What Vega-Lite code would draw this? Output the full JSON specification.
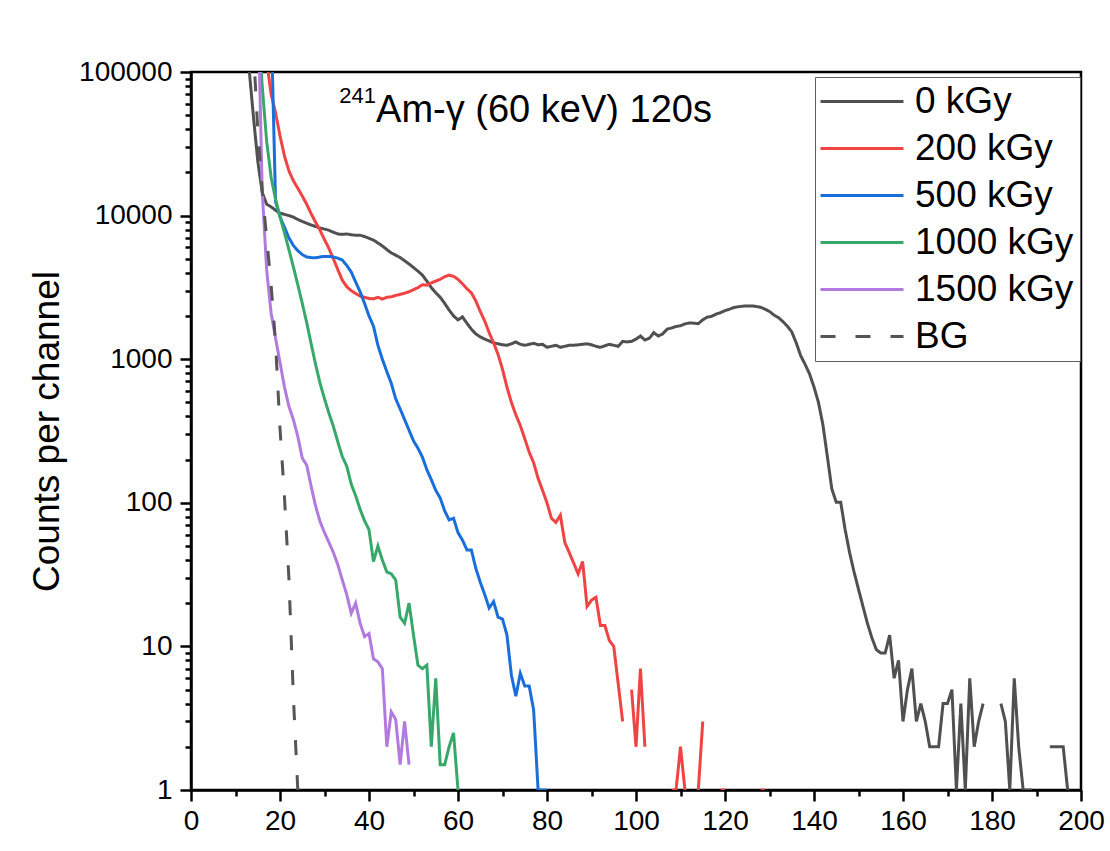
{
  "$schema": "https://vega.github.io/schema/vega-lite/v6.json",
  "width": 890,
  "height": 718,
  "autosize": {"type": "none"},
  "padding": {"left": 191, "top": 72, "right": 29, "bottom": 61},
  "background": "white",
  "config": {
    "font": "Liberation Sans",
    "view": {"stroke": "black", "strokeWidth": 2.5},
    "axis": {"domainColor": "black", "domainWidth": 2.5, "tickColor": "black", "tickWidth": 2.5, "labelColor": "black", "titleColor": "black", "grid": false, "labelFont": "Liberation Sans", "titleFont": "Liberation Sans", "titleFontWeight": "normal", "labelFontSize": 28, "titleFontSize": 37},
    "legend": {"orient": "none", "legendX": 624, "legendY": 5, "padding": 6, "strokeColor": "#606060", "fillColor": "white", "labelFontSize": 37, "labelFont": "Liberation Sans", "labelColor": "black", "symbolType": "M-1.9,0H6.4", "symbolSize": 400, "symbolStrokeWidth": 3, "labelOffset": 57, "rowPadding": 9, "labelLimit": 400, "cornerRadius": 0}
  },
  "datasets": {
    "spectra": [
      {"ch":12,"0 kGy":300000},
      {"ch":13,"0 kGy":110000,"BG":500000},
      {"ch":14,"0 kGy":50000,"BG":150000},
      {"ch":15,"0 kGy":24000,"1000 kGy":250000,"1500 kGy":350000,"BG":40000},
      {"ch":16,"0 kGy":14500,"1000 kGy":80000,"1500 kGy":15000,"BG":15000},
      {"ch":17,"0 kGy":12000,"200 kGy":120000,"1000 kGy":33000,"1500 kGy":4200,"BG":7000},
      {"ch":18,"0 kGy":11500,"200 kGy":70000,"500 kGy":240000,"1000 kGy":18500,"1500 kGy":2100,"BG":3300},
      {"ch":19,"0 kGy":10900,"200 kGy":52000,"500 kGy":12500,"1000 kGy":13000,"1500 kGy":1400,"BG":1300},
      {"ch":20,"0 kGy":10400,"200 kGy":36000,"500 kGy":9800,"1000 kGy":9800,"1500 kGy":950,"BG":330},
      {"ch":21,"0 kGy":10200,"200 kGy":26000,"500 kGy":8300,"1000 kGy":7600,"1500 kGy":640,"BG":110},
      {"ch":22,"0 kGy":10000,"200 kGy":20500,"500 kGy":7000,"1000 kGy":5800,"1500 kGy":470,"BG":30},
      {"ch":23,"0 kGy":9750,"200 kGy":17500,"500 kGy":6200,"1000 kGy":4400,"1500 kGy":380,"BG":4.5},
      {"ch":24,"0 kGy":9400,"200 kGy":15500,"500 kGy":5700,"1000 kGy":3300,"1500 kGy":290,"BG":1},
      {"ch":25,"0 kGy":9100,"200 kGy":13700,"500 kGy":5350,"1000 kGy":2450,"1500 kGy":205},
      {"ch":26,"0 kGy":8850,"200 kGy":12000,"500 kGy":5150,"1000 kGy":1800,"1500 kGy":183},
      {"ch":27,"0 kGy":8600,"200 kGy":10300,"500 kGy":5100,"1000 kGy":1280,"1500 kGy":130},
      {"ch":28,"0 kGy":8400,"200 kGy":9000,"500 kGy":5080,"1000 kGy":920,"1500 kGy":95},
      {"ch":29,"0 kGy":8200,"200 kGy":7900,"500 kGy":5150,"1000 kGy":680,"1500 kGy":74},
      {"ch":30,"0 kGy":8050,"200 kGy":6800,"500 kGy":5200,"1000 kGy":530,"1500 kGy":62},
      {"ch":31,"0 kGy":7900,"200 kGy":5900,"500 kGy":5200,"1000 kGy":420,"1500 kGy":53},
      {"ch":32,"0 kGy":7650,"200 kGy":5000,"500 kGy":5150,"1000 kGy":340,"1500 kGy":45},
      {"ch":33,"0 kGy":7450,"200 kGy":4200,"500 kGy":5050,"1000 kGy":265,"1500 kGy":37},
      {"ch":34,"0 kGy":7400,"200 kGy":3550,"500 kGy":4900,"1000 kGy":210,"1500 kGy":29},
      {"ch":35,"0 kGy":7450,"200 kGy":3200,"500 kGy":4500,"1000 kGy":180,"1500 kGy":23},
      {"ch":36,"0 kGy":7350,"200 kGy":3000,"500 kGy":4050,"1000 kGy":135,"1500 kGy":17},
      {"ch":37,"0 kGy":7300,"200 kGy":2870,"500 kGy":3450,"1000 kGy":112,"1500 kGy":20},
      {"ch":38,"0 kGy":7300,"200 kGy":2750,"500 kGy":2950,"1000 kGy":90,"1500 kGy":14.5},
      {"ch":39,"0 kGy":7150,"200 kGy":2700,"500 kGy":2450,"1000 kGy":75,"1500 kGy":11.7},
      {"ch":40,"0 kGy":6950,"200 kGy":2650,"500 kGy":2000,"1000 kGy":65,"1500 kGy":12.3},
      {"ch":41,"0 kGy":6750,"200 kGy":2630,"500 kGy":1700,"1000 kGy":39,"1500 kGy":8.2},
      {"ch":42,"0 kGy":6450,"200 kGy":2700,"500 kGy":1250,"1000 kGy":50,"1500 kGy":7.8},
      {"ch":43,"0 kGy":6150,"200 kGy":2620,"500 kGy":1000,"1000 kGy":40,"1500 kGy":7},
      {"ch":44,"0 kGy":5800,"200 kGy":2700,"500 kGy":820,"1000 kGy":33,"1500 kGy":2},
      {"ch":45,"0 kGy":5500,"200 kGy":2720,"500 kGy":680,"1000 kGy":32,"1500 kGy":3.5},
      {"ch":46,"0 kGy":5300,"200 kGy":2780,"500 kGy":530,"1000 kGy":29,"1500 kGy":3.1},
      {"ch":47,"0 kGy":5100,"200 kGy":2830,"500 kGy":450,"1000 kGy":16,"1500 kGy":1.5},
      {"ch":48,"0 kGy":4850,"200 kGy":2880,"500 kGy":380,"1000 kGy":14.5,"1500 kGy":3},
      {"ch":49,"0 kGy":4600,"200 kGy":2950,"500 kGy":320,"1000 kGy":20,"1500 kGy":1.5},
      {"ch":50,"0 kGy":4350,"200 kGy":3050,"500 kGy":270,"1000 kGy":12},
      {"ch":51,"0 kGy":4100,"200 kGy":3150,"500 kGy":240,"1000 kGy":7.4},
      {"ch":52,"0 kGy":3850,"200 kGy":3300,"500 kGy":208,"1000 kGy":7},
      {"ch":53,"0 kGy":3500,"200 kGy":3280,"500 kGy":170,"1000 kGy":7.4},
      {"ch":54,"0 kGy":3150,"200 kGy":3400,"500 kGy":145,"1000 kGy":2},
      {"ch":55,"0 kGy":2900,"200 kGy":3500,"500 kGy":122,"1000 kGy":6},
      {"ch":56,"0 kGy":2700,"200 kGy":3600,"500 kGy":108,"1000 kGy":1.5},
      {"ch":57,"0 kGy":2450,"200 kGy":3750,"500 kGy":88,"1000 kGy":1.5},
      {"ch":58,"0 kGy":2200,"200 kGy":3850,"500 kGy":76,"1000 kGy":2},
      {"ch":59,"0 kGy":2000,"200 kGy":3780,"500 kGy":78,"1000 kGy":2.5},
      {"ch":60,"0 kGy":1880,"200 kGy":3600,"500 kGy":62,"1000 kGy":1},
      {"ch":61,"0 kGy":1970,"200 kGy":3350,"500 kGy":55},
      {"ch":62,"0 kGy":1780,"200 kGy":3100,"500 kGy":47},
      {"ch":63,"0 kGy":1620,"200 kGy":2900,"500 kGy":47},
      {"ch":64,"0 kGy":1500,"200 kGy":2550,"500 kGy":35},
      {"ch":65,"0 kGy":1430,"200 kGy":2150,"500 kGy":28},
      {"ch":66,"0 kGy":1380,"200 kGy":1850,"500 kGy":23},
      {"ch":67,"0 kGy":1340,"200 kGy":1530,"500 kGy":18.5},
      {"ch":68,"0 kGy":1300,"200 kGy":1300,"500 kGy":20.5},
      {"ch":69,"0 kGy":1280,"200 kGy":1080,"500 kGy":16},
      {"ch":70,"0 kGy":1260,"200 kGy":850,"500 kGy":15.5},
      {"ch":71,"0 kGy":1250,"200 kGy":640,"500 kGy":12},
      {"ch":72,"0 kGy":1280,"200 kGy":500,"500 kGy":6.3},
      {"ch":73,"0 kGy":1320,"200 kGy":410,"500 kGy":4.5},
      {"ch":74,"0 kGy":1270,"200 kGy":345,"500 kGy":6.5},
      {"ch":75,"0 kGy":1250,"200 kGy":280,"500 kGy":5.3},
      {"ch":76,"0 kGy":1270,"200 kGy":225,"500 kGy":5.3},
      {"ch":77,"0 kGy":1290,"200 kGy":190,"500 kGy":3.6},
      {"ch":78,"0 kGy":1260,"200 kGy":148,"500 kGy":1},
      {"ch":79,"0 kGy":1270,"200 kGy":122,"500 kGy":1},
      {"ch":80,"0 kGy":1210,"200 kGy":100,"500 kGy":1},
      {"ch":81,"0 kGy":1230,"200 kGy":78},
      {"ch":82,"0 kGy":1250,"200 kGy":73},
      {"ch":83,"0 kGy":1210,"200 kGy":82},
      {"ch":84,"0 kGy":1230,"200 kGy":53},
      {"ch":85,"0 kGy":1250,"200 kGy":45},
      {"ch":86,"0 kGy":1250,"200 kGy":38},
      {"ch":87,"0 kGy":1260,"200 kGy":32},
      {"ch":88,"0 kGy":1270,"200 kGy":39},
      {"ch":89,"0 kGy":1280,"200 kGy":19},
      {"ch":90,"0 kGy":1260,"200 kGy":21},
      {"ch":91,"0 kGy":1230,"200 kGy":22},
      {"ch":92,"0 kGy":1210,"200 kGy":14},
      {"ch":93,"0 kGy":1240,"200 kGy":14},
      {"ch":94,"0 kGy":1270,"200 kGy":11},
      {"ch":95,"0 kGy":1250,"200 kGy":10},
      {"ch":96,"0 kGy":1230,"200 kGy":5.5},
      {"ch":97,"0 kGy":1330,"200 kGy":3},
      {"ch":98,"0 kGy":1320},
      {"ch":99,"0 kGy":1330,"200 kGy":5},
      {"ch":100,"0 kGy":1380,"200 kGy":2},
      {"ch":101,"0 kGy":1450,"200 kGy":7},
      {"ch":102,"0 kGy":1360,"200 kGy":2},
      {"ch":103,"0 kGy":1400},
      {"ch":104,"0 kGy":1530},
      {"ch":105,"0 kGy":1450},
      {"ch":106,"0 kGy":1500},
      {"ch":107,"0 kGy":1620},
      {"ch":108,"0 kGy":1650,"200 kGy":1},
      {"ch":109,"0 kGy":1690,"200 kGy":1},
      {"ch":110,"0 kGy":1710,"200 kGy":2},
      {"ch":111,"0 kGy":1760,"200 kGy":1},
      {"ch":112,"0 kGy":1790},
      {"ch":113,"0 kGy":1780},
      {"ch":114,"0 kGy":1770,"200 kGy":1},
      {"ch":115,"0 kGy":1880,"200 kGy":3},
      {"ch":116,"0 kGy":1960},
      {"ch":117,"0 kGy":1990},
      {"ch":118,"0 kGy":2060},
      {"ch":119,"0 kGy":2110,"200 kGy":1},
      {"ch":120,"0 kGy":2180,"200 kGy":1},
      {"ch":121,"0 kGy":2230},
      {"ch":122,"0 kGy":2290},
      {"ch":123,"0 kGy":2320},
      {"ch":124,"0 kGy":2340},
      {"ch":125,"0 kGy":2350},
      {"ch":126,"0 kGy":2350},
      {"ch":127,"0 kGy":2330},
      {"ch":128,"0 kGy":2300,"200 kGy":1},
      {"ch":129,"0 kGy":2230,"200 kGy":1},
      {"ch":130,"0 kGy":2150},
      {"ch":131,"0 kGy":2030},
      {"ch":132,"0 kGy":1950},
      {"ch":133,"0 kGy":1830},
      {"ch":134,"0 kGy":1700},
      {"ch":135,"0 kGy":1550},
      {"ch":136,"0 kGy":1300},
      {"ch":137,"0 kGy":1060},
      {"ch":138,"0 kGy":920},
      {"ch":139,"0 kGy":790},
      {"ch":140,"0 kGy":640},
      {"ch":141,"0 kGy":500},
      {"ch":142,"0 kGy":350},
      {"ch":143,"0 kGy":210},
      {"ch":144,"0 kGy":125},
      {"ch":145,"0 kGy":101},
      {"ch":146,"0 kGy":101},
      {"ch":147,"0 kGy":65},
      {"ch":148,"0 kGy":45},
      {"ch":149,"0 kGy":33},
      {"ch":150,"0 kGy":25},
      {"ch":151,"0 kGy":19},
      {"ch":152,"0 kGy":14.5},
      {"ch":153,"0 kGy":11.5},
      {"ch":154,"0 kGy":9.5},
      {"ch":155,"0 kGy":9},
      {"ch":156,"0 kGy":9},
      {"ch":157,"0 kGy":12},
      {"ch":158,"0 kGy":6},
      {"ch":159,"0 kGy":8},
      {"ch":160,"0 kGy":3},
      {"ch":161,"0 kGy":5},
      {"ch":162,"0 kGy":7},
      {"ch":163,"0 kGy":3},
      {"ch":164,"0 kGy":4},
      {"ch":165,"0 kGy":3},
      {"ch":166,"0 kGy":2},
      {"ch":167,"0 kGy":2},
      {"ch":168,"0 kGy":2},
      {"ch":169,"0 kGy":4},
      {"ch":170,"0 kGy":4},
      {"ch":171,"0 kGy":5},
      {"ch":172,"0 kGy":1},
      {"ch":173,"0 kGy":4},
      {"ch":174,"0 kGy":1},
      {"ch":175,"0 kGy":6},
      {"ch":176,"0 kGy":2},
      {"ch":177,"0 kGy":3},
      {"ch":178,"0 kGy":4},
      {"ch":179},
      {"ch":180},
      {"ch":181},
      {"ch":182,"0 kGy":4},
      {"ch":183,"0 kGy":3},
      {"ch":184,"0 kGy":1},
      {"ch":185,"0 kGy":6},
      {"ch":186,"0 kGy":2},
      {"ch":187,"0 kGy":1},
      {"ch":188,"0 kGy":1},
      {"ch":189,"0 kGy":1},
      {"ch":190},
      {"ch":191},
      {"ch":192},
      {"ch":193,"0 kGy":2},
      {"ch":194,"0 kGy":2},
      {"ch":195,"0 kGy":2},
      {"ch":196,"0 kGy":2},
      {"ch":197,"0 kGy":1},
      {"ch":198},
      {"ch":199},
      {"ch":200}
    ]
  },
  "resolve": {"axis": {"x": "independent", "y": "independent"}},
  "layer": [
    {
      "data": {"name": "spectra"},
      "transform": [{"fold": ["0 kGy", "200 kGy", "500 kGy", "1000 kGy", "1500 kGy", "BG"], "as": ["series", "counts"]}],
      "mark": {"type": "line", "clip": true, "strokeWidth": 3, "invalid": "break-paths-show-domains"},
      "encoding": {
        "x": {"field": "ch", "type": "quantitative", "scale": {"domain": [0, 200], "nice": false, "zero": false},
              "axis": {"orient": "bottom", "values": [0, 20, 40, 60, 80, 100, 120, 140, 160, 180, 200], "format": "d", "title": null, "tickSize": 11, "labelPadding": 6, "labelFlush": false, "labelOverlap": false}},
        "y": {"field": "counts", "type": "quantitative", "scale": {"type": "log", "domain": [1, 100000], "nice": false},
              "axis": {"orient": "left", "values": [1, 10, 100, 1000, 10000, 100000], "format": "d", "title": "Counts per channel", "tickSize": 11, "labelPadding": 8, "titlePadding": 12, "labelFlush": false, "labelOverlap": false}},
        "color": {"field": "series", "type": "nominal",
                  "scale": {"domain": ["0 kGy", "200 kGy", "500 kGy", "1000 kGy", "1500 kGy", "BG"], "range": ["#505050", "#f04343", "#1a6edb", "#38a86a", "#b27ade", "#555555"]},
                  "legend": {"title": null}},
        "strokeDash": {"field": "series", "type": "nominal",
                  "scale": {"domain": ["0 kGy", "200 kGy", "500 kGy", "1000 kGy", "1500 kGy", "BG"], "range": [[1, 0], [1, 0], [1, 0], [1, 0], [1, 0], [15, 20]]},
                  "legend": {"title": null}}
      }
    },
    {
      "data": {"values": [{}]},
      "mark": {"type": "point", "opacity": 0},
      "encoding": {
        "x": {"datum": 0, "type": "quantitative",
              "axis": {"orient": "bottom", "values": [10, 30, 50, 70, 90, 110, 130, 150, 170, 190], "labels": false, "tickSize": 6, "domain": false, "title": null}},
        "y": {"datum": 1, "type": "quantitative", "scale": {"type": "log"},
              "axis": {"orient": "left", "values": [2, 3, 4, 5, 6, 7, 8, 9, 20, 30, 40, 50, 60, 70, 80, 90, 200, 300, 400, 500, 600, 700, 800, 900, 2000, 3000, 4000, 5000, 6000, 7000, 8000, 9000, 20000, 30000, 40000, 50000, 60000, 70000, 80000, 90000], "labels": false, "tickSize": 6, "domain": false, "title": null}}
      }
    },
    {
      "data": {"values": [{}]},
      "mark": {"type": "text", "align": "left", "baseline": "alphabetic", "fontSize": 22, "font": "Liberation Sans", "color": "black"},
      "encoding": {
        "x": {"datum": 33.3, "type": "quantitative", "axis": null},
        "y": {"datum": 60800, "type": "quantitative", "scale": {"type": "log"}, "axis": null},
        "text": {"value": "241"}
      }
    },
    {
      "data": {"values": [{}]},
      "mark": {"type": "text", "align": "left", "baseline": "alphabetic", "fontSize": 38, "font": "Liberation Sans", "color": "black"},
      "encoding": {
        "x": {"datum": 41.6, "type": "quantitative", "axis": null},
        "y": {"datum": 44870, "type": "quantitative", "scale": {"type": "log"}, "axis": null},
        "text": {"value": "Am-γ (60 keV) 120s"}
      }
    }
  ]
}
